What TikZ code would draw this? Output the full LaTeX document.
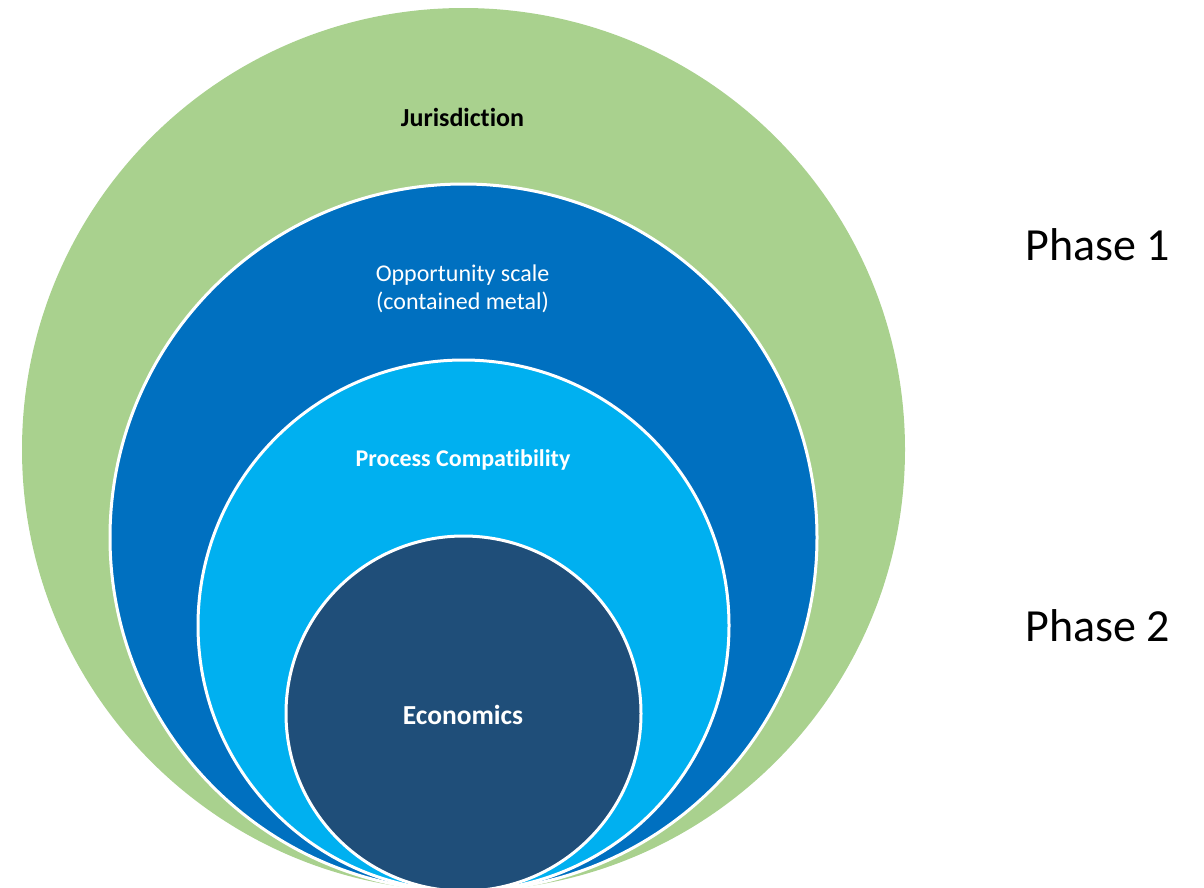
\documentclass[tikz,border=0pt]{standalone}
\usepackage{fontspec}
\setmainfont{Carlito}[Ligatures=NoCommon]
\definecolor{ringgreen}{HTML}{A9D18E}
\definecolor{ringblue}{HTML}{0070C0}
\definecolor{ringlight}{HTML}{00B0F0}
\definecolor{ringnavy}{HTML}{1F4E79}
\begin{document}
\begin{tikzpicture}[x=1pt,y=-1pt,
  ring/.style={circle, inner sep=0pt, outer sep=0pt},
  innerring/.style={ring, draw=white, line width=3pt},
  lbl/.style={inner sep=0pt, align=center, text=white},
  phase/.style={inner sep=0pt, font=\fontsize{46}{56}\selectfont}]
\useasboundingbox (0,0) rectangle (1204,887);
\clip (0,0) rectangle (1204,887);
\node[ring, fill=ringgreen, minimum size=883pt] (jur) at (463.5,449.5) {};
\node[innerring, fill=ringblue, minimum size=707pt] (opp) at (463.5,537.5) {};
\node[innerring, fill=ringlight, minimum size=531pt] (proc) at (463.5,625.5) {};
\node[innerring, fill=ringnavy, minimum size=355pt] (eco) at (463.5,713.5) {};
\node[lbl, text=black, font=\bfseries\fontsize{26}{31}\selectfont] (tjur) at (462.5,117) {Jurisdiction};
\node[lbl, font=\fontsize{24}{28}\selectfont] (topp) at (462.5,289) {Opportunity scale\\(contained metal)};
\node[lbl, font=\bfseries\fontsize{24}{29}\selectfont] (tproc) at (463,460) {Process Compatibility};
\node[lbl, font=\bfseries\fontsize{27.5}{33}\selectfont] (teco) at (463,715) {Economics};
\node[phase] (ph1) at (1098,245) {Phase 1};
\node[phase] (ph2) at (1098,626) {Phase 2};
\end{tikzpicture}
\end{document}
